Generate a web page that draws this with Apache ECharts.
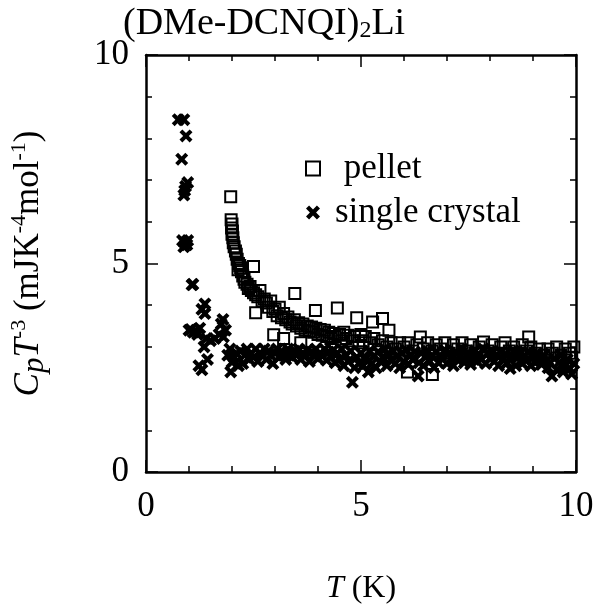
<!DOCTYPE html>
<html>
<head>
<meta charset="utf-8">
<script src="https://cdn.jsdelivr.net/npm/echarts@6/dist/echarts.min.js"></script>
<style>
  html, body { margin: 0; padding: 0; background: #fff; }
  #chart { width: 609px; height: 610px; }
</style>
</head>
<body>
<div id="chart"></div>
<script>
// Specific heat C_p/T^3 of (DMe-DCNQI)2Li: pellet vs single crystal
const xTicks = [0, 5, 10];
const yTicks = [0, 5, 10];

// pellet: temperature (K) and C_p T^-3 (mJ K^-4 mol^-1)
const pelletT = [
  1.97, 1.98, 2.00, 1.99, 2.01, 2.00, 2.02, 2.03, 2.05, 2.08, 2.10, 2.12, 2.15, 2.18, 2.20, 2.14,
  2.22, 2.25, 2.28, 2.30, 2.35, 2.38, 2.42, 2.50, 2.45, 2.50, 2.55, 2.60, 2.65, 2.70, 2.75, 2.80,
  2.85, 2.90, 2.95, 3.00, 3.05, 3.10, 3.15, 3.20, 3.25, 3.30, 3.35, 3.46, 3.40, 3.45, 3.50, 3.55,
  3.60, 3.65, 3.70, 3.75, 3.80, 3.85, 3.94, 3.90, 3.95, 4.00, 4.05, 4.10, 4.15, 4.20, 4.25, 4.30,
  4.35, 4.45, 4.40, 4.50, 4.55, 4.60, 4.65, 4.70, 4.80, 4.90, 4.85, 4.95, 5.00, 5.05, 5.10, 5.20,
  5.27, 5.30, 5.40, 5.50, 5.50, 5.60, 5.65, 5.70, 5.80, 5.90, 6.00, 6.08, 6.10, 6.20, 6.30, 6.38,
  6.45, 6.55, 6.66, 6.65, 6.75, 6.85, 6.95, 7.05, 7.15, 7.25, 7.35, 7.45, 7.55, 7.65, 7.75, 7.85,
  7.95, 8.05, 8.15, 8.25, 8.35, 8.45, 8.55, 8.65, 8.75, 8.90, 8.85, 8.95, 9.05, 9.15, 9.25, 9.35,
  9.45, 9.55, 9.65, 9.75, 9.85, 9.95, 9.90, 2.97, 2.55, 3.20, 3.60
];
const pelletCp = [
  6.60, 6.05, 5.95, 5.85, 5.78, 5.70, 5.62, 5.50, 5.40, 5.30, 5.22, 5.10, 5.00, 4.95, 4.90, 4.85,
  4.80, 4.70, 4.62, 4.55, 4.50, 4.40, 4.45, 4.93, 4.35, 4.30, 4.25, 4.20, 4.35, 4.10, 4.15, 4.05,
  3.95, 4.10, 3.85, 3.90, 3.75, 3.95, 3.70, 3.80, 3.65, 3.72, 3.60, 4.28, 3.55, 3.65, 3.50, 3.58,
  3.45, 3.55, 3.40, 3.50, 3.38, 3.48, 3.87, 3.35, 3.45, 3.30, 3.42, 3.28, 3.40, 3.25, 3.35, 3.20,
  3.32, 3.93, 3.25, 3.30, 3.15, 3.35, 3.20, 3.28, 3.15, 3.70, 3.25, 3.10, 3.30, 3.15, 3.25, 3.10,
  3.60, 3.20, 3.05, 3.68, 3.15, 3.00, 3.40, 3.10, 2.95, 3.10, 3.00, 2.40, 3.10, 2.90, 3.05, 3.24,
  2.95, 3.10, 2.34, 2.90, 3.05, 2.95, 3.10, 2.85, 3.05, 2.95, 3.10, 2.90, 3.05, 2.85, 3.00, 3.12,
  2.90, 3.05, 2.85, 3.00, 3.10, 2.90, 3.00, 2.85, 3.05, 3.24, 2.90, 3.00, 2.85, 2.95, 2.80, 2.95,
  2.85, 3.00, 2.80, 2.95, 2.85, 3.00, 2.75, 3.29, 3.82, 3.20, 3.10
];

// single crystal: temperature (K) and C_p T^-3 (mJ K^-4 mol^-1)
const crystalT = [
  0.75, 0.88, 0.93, 0.83, 0.97, 0.92, 0.88, 0.90, 0.85, 0.90, 0.95, 0.88, 0.97, 1.07, 1.09, 1.37,
  1.37, 1.30, 1.04, 1.00, 1.10, 1.20, 1.15, 1.25, 1.79, 1.80, 1.75, 1.85, 1.70, 1.60, 1.50, 1.40,
  1.35, 1.23, 1.43, 1.30, 1.97, 2.00, 1.90, 1.95, 2.05, 2.10, 2.15,
  2.20, 2.25, 2.30, 2.35, 2.40, 2.45, 2.50, 2.55, 2.60, 2.65, 2.70, 2.75, 2.80, 2.85, 2.90, 2.95,
  3.00, 3.05, 3.10, 3.15, 3.20, 3.25, 3.30, 3.35, 3.40, 3.45, 3.50, 3.55, 3.60, 3.65, 3.70, 3.75,
  3.80, 3.85, 3.90, 3.95, 4.00, 4.05, 4.10, 4.15, 4.20, 4.25, 4.30, 4.35, 4.40, 4.45, 4.50, 4.55,
  4.60, 4.65, 4.70, 4.76, 4.80, 4.85, 4.90, 4.95, 5.00, 5.05, 5.10, 5.17, 5.20, 5.25, 5.30, 5.35,
  5.40, 5.45, 5.50, 5.55, 5.60, 5.65, 5.70, 5.75, 5.80, 5.85, 5.90, 5.95, 6.00, 6.05, 6.10, 6.15,
  6.20, 6.25, 6.33, 6.35, 6.40, 6.45, 6.50, 6.55, 6.60, 6.65, 6.70, 6.75, 6.80, 6.85, 6.90, 6.95,
  7.00, 7.05, 7.10, 7.15, 7.20, 7.25, 7.30, 7.35, 7.40, 7.45, 7.50, 7.55, 7.60, 7.65, 7.70, 7.75,
  7.80, 7.85, 7.90, 7.95, 8.00, 8.05, 8.10, 8.15, 8.20, 8.25, 8.30, 8.35, 8.40, 8.47, 8.50, 8.55,
  8.60, 8.65, 8.70, 8.75, 8.80, 8.85, 8.90, 8.95, 9.00, 9.05, 9.10, 9.15, 9.20, 9.25, 9.30, 9.35,
  9.44, 9.50, 9.55, 9.60, 9.65, 9.70, 9.75, 9.80, 9.86, 9.90, 9.95
];
const crystalCp = [
  8.45, 8.45, 8.06, 7.50, 6.94, 6.85, 6.64, 6.75, 5.55, 5.50, 5.45, 5.40, 5.55, 4.49, 4.50, 4.03,
  3.80, 3.90, 3.42, 3.40, 3.35, 3.30, 3.38, 3.45, 3.66, 3.24, 3.55, 3.40, 3.30, 3.20, 3.15, 3.20,
  3.00, 2.55, 2.70, 2.45, 2.40, 2.63, 2.80, 2.95, 2.75, 2.85, 2.55,
  2.90, 2.60, 2.80, 2.95, 2.70, 2.85, 2.75, 2.95, 2.65, 2.85, 2.80, 2.95, 2.70, 2.90, 2.80, 2.60,
  2.85, 2.95, 2.75, 2.90, 2.80, 2.70, 2.95, 2.85, 2.75, 2.90, 2.80, 2.95, 2.70, 2.85, 2.78, 2.92,
  2.65, 2.88, 2.80, 2.95, 2.72, 2.85, 2.78, 2.95, 2.68, 2.88, 2.75, 2.92, 2.62, 2.85, 2.70, 2.95,
  2.55, 2.80, 2.65, 2.90, 2.15, 2.50, 2.75, 2.60, 2.85, 2.55, 2.70, 2.40, 2.90, 2.60, 2.78, 2.50,
  2.88, 2.65, 2.75, 2.95, 2.55, 2.82, 2.68, 2.90, 2.60, 2.78, 2.50, 2.85, 2.65, 2.92, 2.58, 2.80,
  2.70, 2.88, 2.30, 2.62, 2.85, 2.55, 2.75, 2.90, 2.65, 2.80, 2.50, 2.88, 2.62, 2.78, 2.70, 2.92,
  2.60, 2.85, 2.72, 2.55, 2.88, 2.68, 2.80, 2.95, 2.62, 2.78, 2.85, 2.58, 2.75, 2.90, 2.65, 2.82,
  2.70, 2.95, 2.60, 2.85, 2.72, 2.90, 2.65, 2.80, 2.55, 2.88, 2.70, 2.82, 2.62, 2.48, 2.78, 2.90,
  2.55, 2.75, 2.85, 2.60, 2.78, 2.68, 2.88, 2.55, 2.75, 2.62, 2.85, 2.70, 2.58, 2.80, 2.65, 2.50,
  2.30, 2.72, 2.45, 2.62, 2.80, 2.40, 2.55, 2.70, 2.48, 2.35, 2.60
];

const pelletData = pelletT.map((t, i) => [t, pelletCp[i]]);
const crystalData = crystalT.map((t, i) => [t, crystalCp[i]]);

const FONT = '"Liberation Serif", "Times New Roman", serif';
const CROSS = 'path://M0,2.2 L2.2,0 L5,2.8 L7.8,0 L10,2.2 L7.2,5 L10,7.8 L7.8,10 L5,7.2 L2.2,10 L0,7.8 L2.8,5 Z';

function frameAxis(pos, labelValues) {
  return {
    type: 'value', min: 0, max: 10, interval: 5, position: pos,
    axisLine: { show: true, onZero: false, lineStyle: { color: '#000', width: 2.5 } },
    axisTick: { show: true, inside: true, length: 12, lineStyle: { color: '#000', width: 1.5 } },
    minorTick: { show: true, splitNumber: 5, length: 6, lineStyle: { color: '#000', width: 1.5 } },
    splitLine: { show: false },
    minorSplitLine: { show: false },
    axisLabel: labelValues ? {
      show: true, color: '#000', fontFamily: FONT, fontSize: 35, margin: 17,
      customValues: labelValues
    } : { show: false }
  };
}

const xBottom = frameAxis('bottom', xTicks);
xBottom.name = '{i|T} (K)';
xBottom.nameLocation = 'middle';
xBottom.nameGap = 101;
xBottom.nameTextStyle = {
  color: '#000', fontFamily: FONT, fontSize: 32,
  rich: { i: { fontFamily: FONT, fontSize: 32, fontStyle: 'italic', color: '#000' } }
};
const xTop = frameAxis('top', null);

const yLeft = frameAxis('left', yTicks);
yLeft.name = '{i|C}{ip|p}{i|T}{s|-3} (mJK{s|-4}mol{s|-1})';
yLeft.nameLocation = 'middle';
yLeft.nameGap = 96;
yLeft.nameTextStyle = {
  color: '#000', fontFamily: FONT, fontSize: 35, lineHeight: 42,
  rich: {
    i: { fontFamily: FONT, fontSize: 35, fontStyle: 'italic', color: '#000', lineHeight: 42 },
    ip: { fontFamily: FONT, fontSize: 31, fontStyle: 'italic', color: '#000', lineHeight: 36, verticalAlign: 'bottom' },
    s: { fontFamily: FONT, fontSize: 22, color: '#000', verticalAlign: 'top', lineHeight: 23 }
  }
};
const yRight = frameAxis('right', null);

const chart = echarts.init(document.getElementById('chart'), null, { renderer: 'canvas' });
chart.setOption({
  backgroundColor: '#fff',
  animation: false,
  title: {
    text: '(DMe-DCNQI){sub|2}Li',
    left: 118, top: 0,
    textStyle: {
      color: '#000', fontFamily: FONT, fontSize: 38, fontWeight: 'normal',
      rich: { sub: { fontFamily: FONT, fontSize: 24, color: '#000', verticalAlign: 'bottom', lineHeight: 33 } }
    }
  },
  grid: { left: 145, right: 33, top: 55, bottom: 123, containLabel: false },
  xAxis: [xBottom, xTop],
  yAxis: [yLeft, yRight],
  legend: {
    orient: 'vertical', left: 300, top: 146, itemGap: 9, itemWidth: 14, itemHeight: 14,
    formatter: (name) => (name === 'pellet' ? ' ' + name : name),
    textStyle: { color: '#000', fontFamily: FONT, fontSize: 35, lineHeight: 34, padding: [0, 0, 0, 10] },
    data: [
      { name: 'pellet', icon: 'rect', itemStyle: { color: 'transparent', borderColor: '#000', borderWidth: 2 } },
      { name: 'single crystal', icon: CROSS, itemStyle: { color: '#000' } }
    ]
  },
  series: [
    {
      name: 'pellet', type: 'scatter', data: pelletData,
      symbol: 'rect', symbolSize: 11,
      itemStyle: { color: 'transparent', borderColor: '#000', borderWidth: 2, opacity: 1 },
      z: 3
    },
    {
      name: 'single crystal', type: 'scatter', data: crystalData,
      symbol: CROSS, symbolSize: 13,
      itemStyle: { color: '#000', opacity: 1 },
      z: 2
    }
  ]
});
</script>
</body>
</html>
